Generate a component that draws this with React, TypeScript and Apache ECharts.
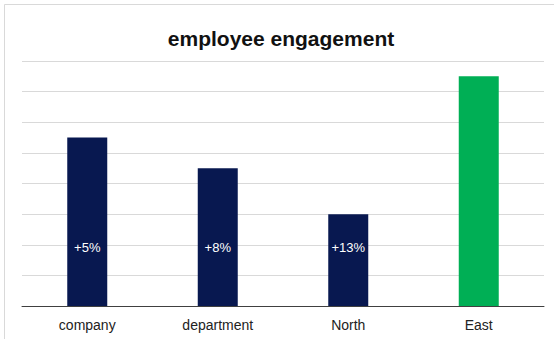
import React, { useEffect, useRef } from "react";
import * as echarts from "echarts";

const categories = ["company", "department", "North", "East"];
const values = [5.5, 4.5, 3, 7.5];
const barLabels = ["+5%", "+8%", "+13%", ""];
const barColors = ["#081850", "#081850", "#081850", "#00AF55"];
const titleText = "employee engagement";

export default function App() {
  const ref = useRef<HTMLDivElement>(null);
  useEffect(() => {
    const chart = echarts.init(ref.current!, null, { renderer: "svg" });
    chart.setOption({
      animation: false,
      title: {
        text: titleText,
        left: 281,
        top: 28,
        padding: 0,
        textAlign: "center",
        textStyle: {
          fontFamily: "Liberation Sans",
          fontSize: 21,
          fontWeight: "bold",
          color: "#111111",
        },
      },
      graphic: [
        {
          type: "rect",
          shape: { x: 4.5, y: 4.5, width: 700, height: 500 },
          style: { fill: "none", stroke: "#d9d9d9", lineWidth: 1 },
          silent: true,
          z: -1,
        },
      ],
      grid: { left: 22, right: 10, top: 61, bottom: 33, containLabel: false },
      xAxis: {
        type: "category",
        data: categories,
        axisLine: { lineStyle: { color: "#404040", width: 1 } },
        axisTick: { show: false },
        axisLabel: {
          fontFamily: "Liberation Sans",
          fontSize: 14,
          color: "#222222",
          margin: 12,
        },
      },
      yAxis: {
        type: "value",
        min: 0,
        max: 8,
        interval: 1,
        axisLabel: { show: false },
        axisLine: { show: false },
        axisTick: { show: false },
        splitLine: { lineStyle: { color: "#d9d9d9", width: 1 } },
      },
      series: [
        {
          type: "bar",
          barWidth: 40,
          data: values.map((v, i) => ({
            value: v,
            itemStyle: { color: barColors[i] },
            label: {
              show: barLabels[i] !== "",
              formatter: barLabels[i],
            },
          })),
          label: {
            position: "insideBottom",
            distance: 52,
            color: "#ffffff",
            fontFamily: "Liberation Sans",
            fontSize: 13,
          },
        },
      ],
    });
    return () => chart.dispose();
  }, []);
  return (
    <div
      ref={ref}
      style={{ position: "fixed", left: 0, top: 0, width: 554, height: 339, background: "#fff" }}
    />
  );
}
